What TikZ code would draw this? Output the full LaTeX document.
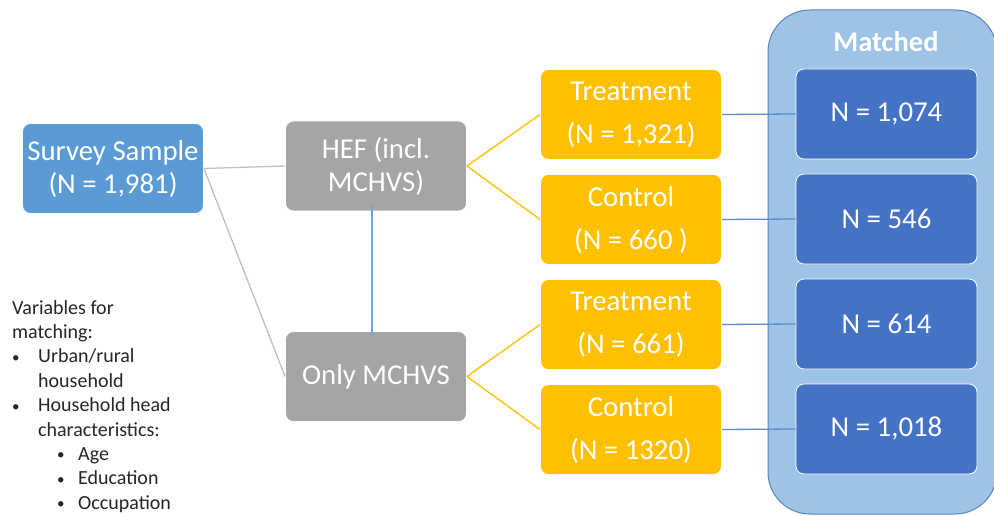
\documentclass[tikz,border=0pt]{standalone}
\usepackage{fontspec}
\setmainfont{Carlito}
\newcommand{\smallbul}{\raisebox{0.5pt}{\fontsize{15}{15}\selectfont •}}
\begin{document}
\definecolor{surveyblue}{HTML}{5B9BD5}
\definecolor{boxgray}{HTML}{A5A5A5}
\definecolor{boxorange}{HTML}{FFC000}
\definecolor{matchblue}{HTML}{4472C4}
\definecolor{panelfill}{HTML}{9DC3E6}
\definecolor{paneledge}{HTML}{5B84B8}
\definecolor{linkgray}{HTML}{C0C0C0}
\definecolor{linkblue}{HTML}{5B8BD0}
\definecolor{splitblue}{HTML}{6FA3DA}
\begin{tikzpicture}[x=1pt,y=-1pt,
  box/.style={rectangle, rounded corners=8pt, draw=white, line width=0.8pt,
    minimum width=181pt, minimum height=90pt, text=white, align=center,
    inner sep=0pt, font=\fontsize{28.8}{33}\selectfont},
  tallbox/.style={box, font=\fontsize{28.8}{43}\selectfont},
  graylink/.style={draw=linkgray, line width=1.3pt},
  orangelink/.style={draw=boxorange, line width=1.3pt},
  bluelink/.style={draw=linkblue, line width=1.3pt}]
\useasboundingbox (0,0) rectangle (994,516);
\fill[white] (0,0) rectangle (994,516);

% matched panel behind the result boxes
\node[draw=paneledge, fill=panelfill, line width=1pt, rounded corners=42pt,
  minimum width=229pt, minimum height=504pt, inner sep=0pt] (panel) at (882.5,262) {};
\node[text=white, font=\fontsize{28.5}{32}\bfseries\selectfont] (mtitle) at (886,42) {Matched};

% source and split boxes
\node[box, fill=surveyblue] (survey) at (113,168.5) {Survey Sample\\(N = 1,981)};
\node[box, fill=boxgray] (hef) at (376,166) {HEF (incl.\\MCHVS)};
\node[box, fill=boxgray] (only) at (376,376.5) {Only MCHVS};

% treatment / control groups
\node[tallbox, fill=boxorange] (t1) at (631,114.5) {Treatment\\(N = 1,321)};
\node[tallbox, fill=boxorange] (c1) at (631,219.5) {Control\\(N = 660 )};
\node[tallbox, fill=boxorange] (t2) at (631,324.5) {Treatment\\(N = 661)};
\node[tallbox, fill=boxorange] (c2) at (631,429.5) {Control\\(N = 1320)};

% matched samples
\node[box, fill=matchblue] (m1) at (886.5,114) {N = 1,074};
\node[box, fill=matchblue] (m2) at (886.5,219) {N = 546};
\node[box, fill=matchblue] (m3) at (886.5,324) {N = 614};
\node[box, fill=matchblue] (m4) at (886.5,429) {N = 1,018};

% connectors
\draw[graylink] (survey.east) -- (hef.west);
\draw[graylink] (survey.east) -- (only.west);
\draw[draw=splitblue, line width=1.3pt] ([xshift=-4pt,yshift=5pt]hef.south) -- ([xshift=-4pt,yshift=-3pt]only.north);
\draw[orangelink] (hef.east) -- (t1.west);
\draw[orangelink] (hef.east) -- (c1.west);
\draw[orangelink] (only.east) -- (t2.west);
\draw[orangelink] (only.east) -- (c2.west);
\draw[bluelink] (t1.east) -- (m1.west);
\draw[bluelink] (c1.east) -- (m2.west);
\draw[bluelink] (t2.east) -- (m3.west);
\draw[bluelink] (c2.east) -- (m4.west);

% matching variables
\node[anchor=north west, align=left, inner sep=0pt, text=black!85,
  font=\fontsize{20}{24.4}\selectfont] (vars) at (12,300)
  {Variables for\\
   matching:\\
   \makebox[26pt][l]{\smallbul}Urban/rural\\
   \hspace*{26pt}household\\
   \makebox[26pt][l]{\smallbul}Household head\\
   \hspace*{26pt}characteristics:\\
   \hspace*{45pt}\makebox[21pt][l]{\smallbul}Age\\
   \hspace*{45pt}\makebox[21pt][l]{\smallbul}Education\\
   \hspace*{45pt}\makebox[21pt][l]{\smallbul}Occupation};
\end{tikzpicture}
\end{document}
